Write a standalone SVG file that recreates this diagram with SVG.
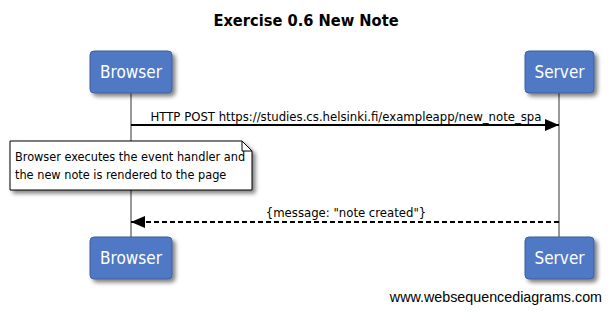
<svg xmlns="http://www.w3.org/2000/svg" width="612" height="312" viewBox="0 0 612 312">
  <defs>
    <filter id="shadow" x="-10%" y="-10%" width="130%" height="140%">
      <feGaussianBlur in="SourceAlpha" stdDeviation="2"/>
      <feOffset dx="3" dy="3" result="b"/>
      <feComponentTransfer><feFuncA type="linear" slope="0.5"/></feComponentTransfer>
      <feMerge><feMergeNode/><feMergeNode in="SourceGraphic"/></feMerge>
    </filter>
    <marker id="head" markerWidth="14" markerHeight="12" refX="14" refY="6" orient="auto" markerUnits="userSpaceOnUse">
      <path d="M0,0 L14,6 L0,12 Z" fill="#000"/>
    </marker>
  </defs>
  <style>
    .actor rect { fill: #5079c4; stroke: #3d5f9e; stroke-width: 1; }
    .actor text { fill: #fff; font-family: "DejaVu Sans Condensed", "DejaVu Sans", sans-serif; font-size: 17px; text-anchor: middle; }
    .life { stroke: #999; stroke-width: 2; }
    .msg { font-family: "DejaVu Sans Condensed", "DejaVu Sans", sans-serif; font-size: 13px; fill: #000; }
    .note-text { font-family: "DejaVu Sans Condensed", "DejaVu Sans", sans-serif; font-size: 12.6px; fill: #000; }
  </style>
  <rect width="612" height="312" fill="#fff"/>
  <text x="306" y="26" font-family="DejaVu Sans Condensed, DejaVu Sans, sans-serif" font-size="16.3" font-weight="bold" text-anchor="middle">Exercise 0.6 New Note</text>

  <g id="lifelines">
    <line class="life" x1="131" y1="93" x2="131" y2="237"/>
    <line class="life" x1="559" y1="93" x2="559" y2="237"/>
  </g>

  <g id="browser-top" class="actor">
    <rect x="90" y="51" width="82" height="42" rx="4" filter="url(#shadow)"/>
    <text x="131" y="78">Browser</text>
  </g>
  <g id="server-top" class="actor">
    <rect x="525" y="51" width="69" height="42" rx="4" filter="url(#shadow)"/>
    <text x="559.5" y="78">Server</text>
  </g>
  <g id="browser-bottom" class="actor">
    <rect x="90" y="237" width="82" height="42" rx="4" filter="url(#shadow)"/>
    <text x="131" y="264">Browser</text>
  </g>
  <g id="server-bottom" class="actor">
    <rect x="525" y="237" width="69" height="42" rx="4" filter="url(#shadow)"/>
    <text x="559.5" y="264">Server</text>
  </g>

  <g id="note">
    <path d="M10,141 L242,141 L252,151 L252,190 L10,190 Z" fill="#fff" stroke="#000" stroke-width="1" filter="url(#shadow)"/>
    <path d="M242,141 L242,151 L252,151" fill="none" stroke="#000" stroke-width="1"/>
    <text class="note-text" x="15" y="161">Browser executes the event handler and</text>
    <text class="note-text" x="15" y="179">the new note is rendered to the page</text>
  </g>

  <g id="connectors">
    <line x1="131" y1="125" x2="559" y2="125" stroke="#000" stroke-width="2" marker-end="url(#head)"/>
    <text class="msg" x="346" y="121" text-anchor="middle">HTTP POST https://studies.cs.helsinki.fi/exampleapp/new_note_spa</text>
    <line x1="559" y1="222" x2="131" y2="222" stroke="#000" stroke-width="2" stroke-dasharray="5,3" marker-end="url(#head)"/>
    <text class="msg" x="346" y="217" text-anchor="middle">{message: "note created"}</text>
  </g>

  <text x="602" y="302" font-family="Liberation Sans, Arial, sans-serif" font-size="14.3" text-anchor="end">www.websequencediagrams.com</text>
</svg>
